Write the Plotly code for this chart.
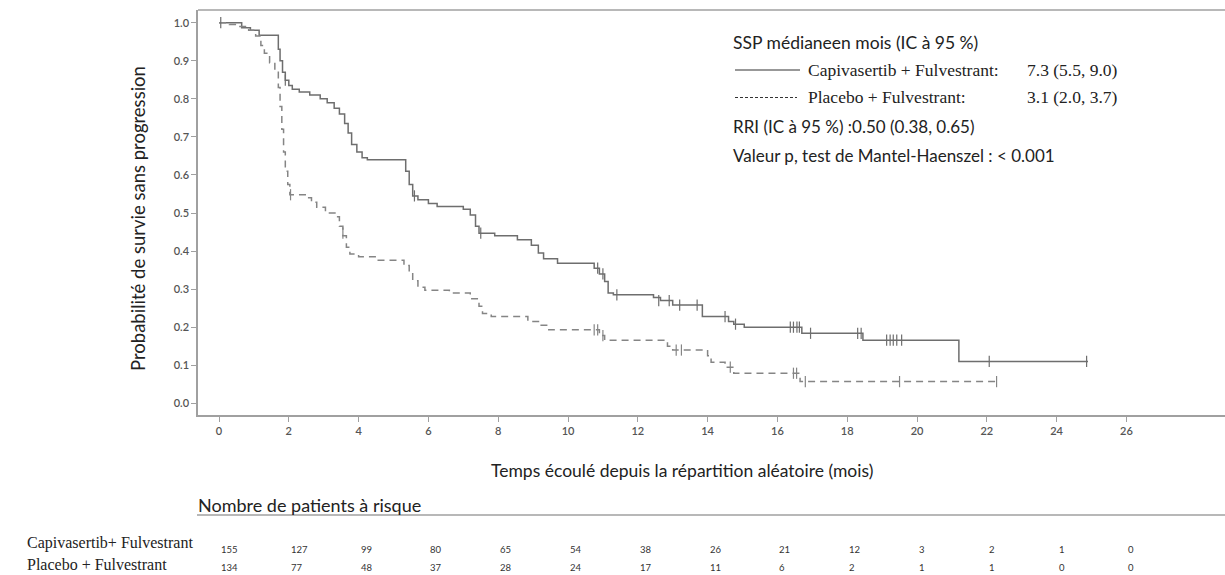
import plotly.graph_objects as go

W, H = 1225, 575
L, R, T, B = 198, 1225, 10, 415

# ---- data ----
capi_t = [0, 0.65, 0.9, 1.15, 1.7, 1.75, 1.82, 1.9, 2.0, 2.1, 2.3, 2.6, 2.9, 3.1, 3.3, 3.45, 3.6, 3.7, 3.8,
          3.95, 4.1, 4.25, 5.35, 5.45, 5.55, 5.7, 6.0, 6.25, 7.0, 7.2, 7.35, 7.45, 7.9, 8.55, 8.95, 9.15,
          9.3, 9.7, 10.75, 10.9, 11.05, 11.15, 11.3, 12.45, 12.65, 13.0, 13.85, 14.6, 14.75, 15.05, 16.7,
          18.45, 21.2, 24.9]
capi_s = [1.0, 0.987, 0.98, 0.967, 0.93, 0.90, 0.87, 0.849, 0.835, 0.825, 0.818, 0.81, 0.80, 0.79, 0.775,
          0.76, 0.735, 0.71, 0.68, 0.66, 0.645, 0.64, 0.61, 0.575, 0.545, 0.535, 0.525, 0.517, 0.51, 0.495,
          0.465, 0.447, 0.44, 0.43, 0.415, 0.395, 0.38, 0.368, 0.355, 0.34, 0.32, 0.29, 0.285, 0.278, 0.27,
          0.258, 0.228, 0.215, 0.208, 0.2, 0.184, 0.166, 0.11, 0.11]
capi_cens_t = [0.05, 1.9, 5.6, 7.5, 10.85, 11.0, 11.4, 12.6, 12.9, 13.2, 13.7, 14.5, 14.8, 16.37, 16.46,
               16.56, 16.63, 16.95, 18.3, 18.4, 19.13, 19.23, 19.32, 19.42, 19.56, 22.07, 24.86]
capi_cens_s = [1.0, 0.849, 0.545, 0.447, 0.355, 0.34, 0.285, 0.27, 0.27, 0.258, 0.258, 0.228, 0.208, 0.2,
               0.2, 0.2, 0.2, 0.184, 0.184, 0.184, 0.166, 0.166, 0.166, 0.166, 0.166, 0.11, 0.11]

plac_t = [0, 0.3, 0.6, 0.85, 1.05, 1.2, 1.3, 1.45, 1.6, 1.7, 1.75, 1.8, 1.85, 1.9, 1.97, 2.03, 2.5, 2.65,
          2.8, 3.05, 3.35, 3.45, 3.55, 3.65, 3.75, 4.0, 4.5, 5.3, 5.45, 5.55, 5.7, 5.9, 6.6, 7.2, 7.45, 7.55,
          7.8, 8.85, 9.2, 9.45, 10.9, 11.05, 12.85, 13.0, 14.0, 14.1, 14.5, 14.75, 16.65, 22.3]
plac_s = [1.0, 0.995, 0.99, 0.98, 0.965, 0.94, 0.92, 0.895, 0.875, 0.83, 0.78, 0.72, 0.66, 0.61, 0.575,
          0.548, 0.54, 0.528, 0.515, 0.5, 0.49, 0.465, 0.44, 0.41, 0.392, 0.385, 0.376, 0.362, 0.345, 0.322,
          0.305, 0.297, 0.29, 0.275, 0.255, 0.236, 0.228, 0.215, 0.205, 0.193, 0.178, 0.166, 0.15, 0.14,
          0.125, 0.108, 0.095, 0.079, 0.057, 0.057]
plac_cens_t = [2.05, 3.55, 10.75, 10.85, 11.0, 13.1, 13.25, 14.65, 16.46, 16.55, 16.8, 19.5, 22.28]
plac_cens_s = [0.548, 0.447, 0.193, 0.193, 0.178, 0.14, 0.14, 0.095, 0.079, 0.079, 0.057, 0.057, 0.057]

x_ticks = list(range(0, 27, 2))
y_ticks = [0.0, 0.1, 0.2, 0.3, 0.4, 0.5, 0.6, 0.7, 0.8, 0.9, 1.0]
risk_capi = [155, 127, 99, 80, 65, 54, 38, 26, 21, 12, 3, 2, 1, 0]
risk_plac = [134, 77, 48, 37, 28, 24, 17, 11, 6, 2, 1, 1, 0, 0]
arm_labels = ["Capivasertib+ Fulvestrant", "Placebo + Fulvestrant"]

GREY = "#6e6e6e"
AXC = "#a0a0a0"
SANS = "Lato, Carlito, 'Open Sans', sans-serif"
SERIF = "'Liberation Serif', 'Times New Roman', serif"


def px(x):
    return (x - L) / (R - L)


def py(y):
    return (B - y) / (B - T)


fig = go.Figure()
fig.add_trace(go.Scatter(x=capi_t, y=capi_s, mode="lines", line=dict(shape="hv", color=GREY, width=1.5),
                         showlegend=False, hoverinfo="skip"))
fig.add_trace(go.Scatter(x=plac_t, y=plac_s, mode="lines",
                         line=dict(shape="hv", color="#858585", width=1.5, dash="7px,5px"),
                         showlegend=False, hoverinfo="skip"))
fig.add_trace(go.Scatter(x=capi_cens_t, y=capi_cens_s, mode="markers",
                         marker=dict(symbol="line-ns", size=8, line=dict(color=GREY, width=1.2)),
                         showlegend=False, hoverinfo="skip"))
fig.add_trace(go.Scatter(x=plac_cens_t, y=plac_cens_s, mode="markers",
                         marker=dict(symbol="line-ns", size=8, line=dict(color="#858585", width=1.2)),
                         showlegend=False, hoverinfo="skip"))

TICKFONT = dict(family=SANS, size=11, color="#555", weight=600)
fig.update_layout(
    width=W, height=H, margin=dict(l=L, r=W - R, t=T, b=H - B),
    plot_bgcolor="white", paper_bgcolor="white",
    xaxis=dict(range=[(L - 219) / 34.9, (R - 219) / 34.9], tickvals=x_ticks, ticks="outside", ticklen=5,
               tickcolor=AXC, showline=True, linecolor=AXC, linewidth=1.5, showgrid=False, zeroline=False,
               tickfont=TICKFONT),
    yaxis=dict(range=[-0.0307, 1.0334], tickvals=y_ticks, ticktext=[f"{v:.1f}" for v in y_ticks],
               ticks="outside", ticklen=5, tickcolor=AXC, showline=True, linecolor=AXC, linewidth=1.5,
               showgrid=False, zeroline=False, tickfont=TICKFONT),
    font=dict(family=SANS, color="#222"),
)

shapes = [
    dict(type="line", xref="paper", yref="paper", x0=0, x1=1, y0=1, y1=1, line=dict(color=AXC, width=1.5)),
    dict(type="line", xref="paper", yref="paper", x0=px(197), x1=px(1225), y0=py(515), y1=py(515),
         line=dict(color=AXC, width=1.5)),
    dict(type="line", xref="paper", yref="paper", x0=px(735), x1=px(800), y0=py(70), y1=py(70),
         line=dict(color="#333", width=1.2)),
    dict(type="line", xref="paper", yref="paper", x0=px(735), x1=px(797), y0=py(97.5), y1=py(97.5),
         line=dict(color="#333", width=1.0, dash="3px,2px")),
]
fig.update_layout(shapes=shapes)

ann = []


def text(x, y, s, size, family=SANS, anchor="left", color="#222", angle=0):
    ann.append(dict(x=px(x), y=py(y), xref="paper", yref="paper", text=s, showarrow=False, xanchor=anchor,
                    yanchor="middle", textangle=angle, font=dict(family=family, size=size, color=color)))


text(138, 219, "Probabilité de survie sans progression", 18.5, anchor="center", angle=-90)
text(682, 471, "Temps écoulé depuis la répartition aléatoire (mois)", 17.5, anchor="center")
text(731, 42, "SSP médianeen mois (IC à 95 %)", 17.5)
text(806, 70, "Capivasertib + Fulvestrant:", 17.5, family=SERIF)
text(1025, 70, "7.3 (5.5, 9.0)", 17.5, family=SERIF)
text(806, 97.5, "Placebo + Fulvestrant:", 17.5, family=SERIF)
text(1025, 97.5, "3.1 (2.0, 3.7)", 17.5, family=SERIF)
text(731, 126, "RRI (IC à 95 %) :0.50 (0.38, 0.65)", 17)
text(731, 155, "Valeur p, test de Mantel-Haenszel : < 0.001", 17)
text(196, 505, "Nombre de patients à risque", 18)
text(25, 543, arm_labels[0], 16, family=SERIF)
text(25, 564, arm_labels[1], 16, family=SERIF)

for xt, a, b in zip(x_ticks, risk_capi, risk_plac):
    ann.append(dict(x=xt, y=py(549), xref="x", yref="paper", text=str(a), showarrow=False, xanchor="left",
                    yanchor="middle", font=dict(family=SANS, size=9.5, color="#333")))
    ann.append(dict(x=xt, y=py(567), xref="x", yref="paper", text=str(b), showarrow=False, xanchor="left",
                    yanchor="middle", font=dict(family=SANS, size=9.5, color="#333")))

fig.update_layout(annotations=ann)
fig.write_html("out.html", config={"displayModeBar": False},
               post_script="document.body.style.margin='0';document.body.style.overflow='hidden';")
